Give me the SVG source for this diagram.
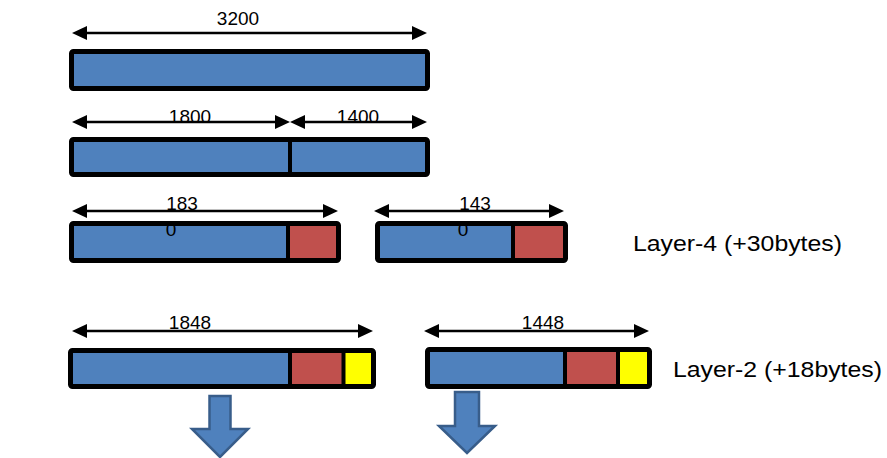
<svg xmlns="http://www.w3.org/2000/svg" width="887" height="458" viewBox="0 0 887 458">
<style>
.blue{fill:#4F81BD}
.red{fill:#C0504D}
.yel{fill:#FFFF00}
.frame{fill:none;stroke:#000;stroke-width:5}
.div{stroke:#000;stroke-width:4}
.dim{stroke:#000;stroke-width:2.5;fill:none;marker-start:url(#ah);marker-end:url(#ah)}
.num{font-family:"Liberation Sans",Arial,sans-serif;font-size:19px;fill:#000;text-anchor:middle}
.lbl{font-family:"Liberation Sans",Arial,sans-serif;font-size:22px;fill:#000}
.down{fill:#4F81BD;stroke:#385D8A;stroke-width:2.5;stroke-linejoin:miter}
</style>
<defs>
<marker id="ah" viewBox="0 0 15 14" refX="7" refY="7" markerWidth="15" markerHeight="14" markerUnits="userSpaceOnUse" orient="auto-start-reverse">
<path d="M0,0 L15,7 L0,14 z" fill="#000"/>
</marker>
</defs>
<rect width="887" height="458" fill="#fff"/>

<g id="bar-3200">
<rect class="blue" x="71.5" y="51.5" width="356" height="37"/>
<rect class="frame" x="71.5" y="51.5" width="356" height="37" rx="2"/>
</g>

<g id="bar-1800-1400">
<rect class="blue" x="71.5" y="139.5" width="356" height="35"/>
<line class="div" x1="290" y1="139" x2="290" y2="175"/>
<rect class="frame" x="71.5" y="139.5" width="356" height="35" rx="2"/>
</g>

<g id="bar-183">
<rect class="blue" x="71.5" y="223.5" width="216" height="37"/>
<rect class="red" x="287.5" y="223.5" width="51" height="37"/>
<line class="div" x1="288" y1="223" x2="288" y2="261"/>
<text class="num" x="171" y="235.5">0</text>
<rect class="frame" x="71.5" y="223.5" width="267" height="37" rx="2"/>
</g>

<g id="bar-143">
<rect class="blue" x="377.5" y="223.5" width="135.5" height="37"/>
<rect class="red" x="513" y="223.5" width="52.5" height="37"/>
<line class="div" x1="513" y1="223" x2="513" y2="261"/>
<text class="num" x="463" y="235.5">0</text>
<rect class="frame" x="377.5" y="223.5" width="188" height="37" rx="2"/>
</g>

<g id="bar-1848">
<rect class="blue" x="70.5" y="350.5" width="219.5" height="36"/>
<rect class="red" x="290" y="350.5" width="53.5" height="36"/>
<rect class="yel" x="343.5" y="350.5" width="30" height="36"/>
<line class="div" x1="290" y1="350" x2="290" y2="387"/>
<line class="div" x1="343.5" y1="350" x2="343.5" y2="387"/>
<rect class="frame" x="70.5" y="350.5" width="303" height="36" rx="2"/>
</g>

<g id="bar-1448">
<rect class="blue" x="427.5" y="349.5" width="137.5" height="37"/>
<rect class="red" x="565" y="349.5" width="53" height="37"/>
<rect class="yel" x="618" y="349.5" width="31.5" height="37"/>
<line class="div" x1="565" y1="349" x2="565" y2="387"/>
<line class="div" x1="618" y1="349" x2="618" y2="387"/>
<rect class="frame" x="427.5" y="349.5" width="222" height="37" rx="2"/>
</g>

<g id="connectors">
<line class="dim" x1="80" y1="33" x2="419" y2="33"/>
<line class="dim" x1="80" y1="122" x2="282" y2="122"/>
<line class="dim" x1="298" y1="122" x2="419" y2="122"/>
<line class="dim" x1="80" y1="211" x2="330" y2="211"/>
<line class="dim" x1="382" y1="211" x2="556" y2="211"/>
<line class="dim" x1="80" y1="331" x2="365" y2="331"/>
<line class="dim" x1="432" y1="331" x2="641" y2="331"/>
<path class="down" d="M209.5,396 L230.5,396 L230.5,429 L248,429 L220,457 L192,429 L209.5,429 Z"/>
<path class="down" d="M455,392 L479,392 L479,426 L495,426 L467,453 L439,426 L455,426 Z"/>
</g>

<g id="labels">
<text class="num" x="238" y="25">3200</text>
<text class="num" x="190" y="123">1800</text>
<text class="num" x="358" y="123">1400</text>
<text class="num" x="182" y="210">183</text>
<text class="num" x="475" y="210">143</text>
<text class="num" x="190" y="329">1848</text>
<text class="num" x="543" y="329">1448</text>
</g>

<g id="layer-4">
<text class="lbl" x="633" y="251" textLength="209" lengthAdjust="spacingAndGlyphs">Layer-4 (+30bytes)</text>
</g>
<g id="layer-2">
<text class="lbl" x="673" y="377" textLength="209" lengthAdjust="spacingAndGlyphs">Layer-2 (+18bytes)</text>
</g>
</svg>
